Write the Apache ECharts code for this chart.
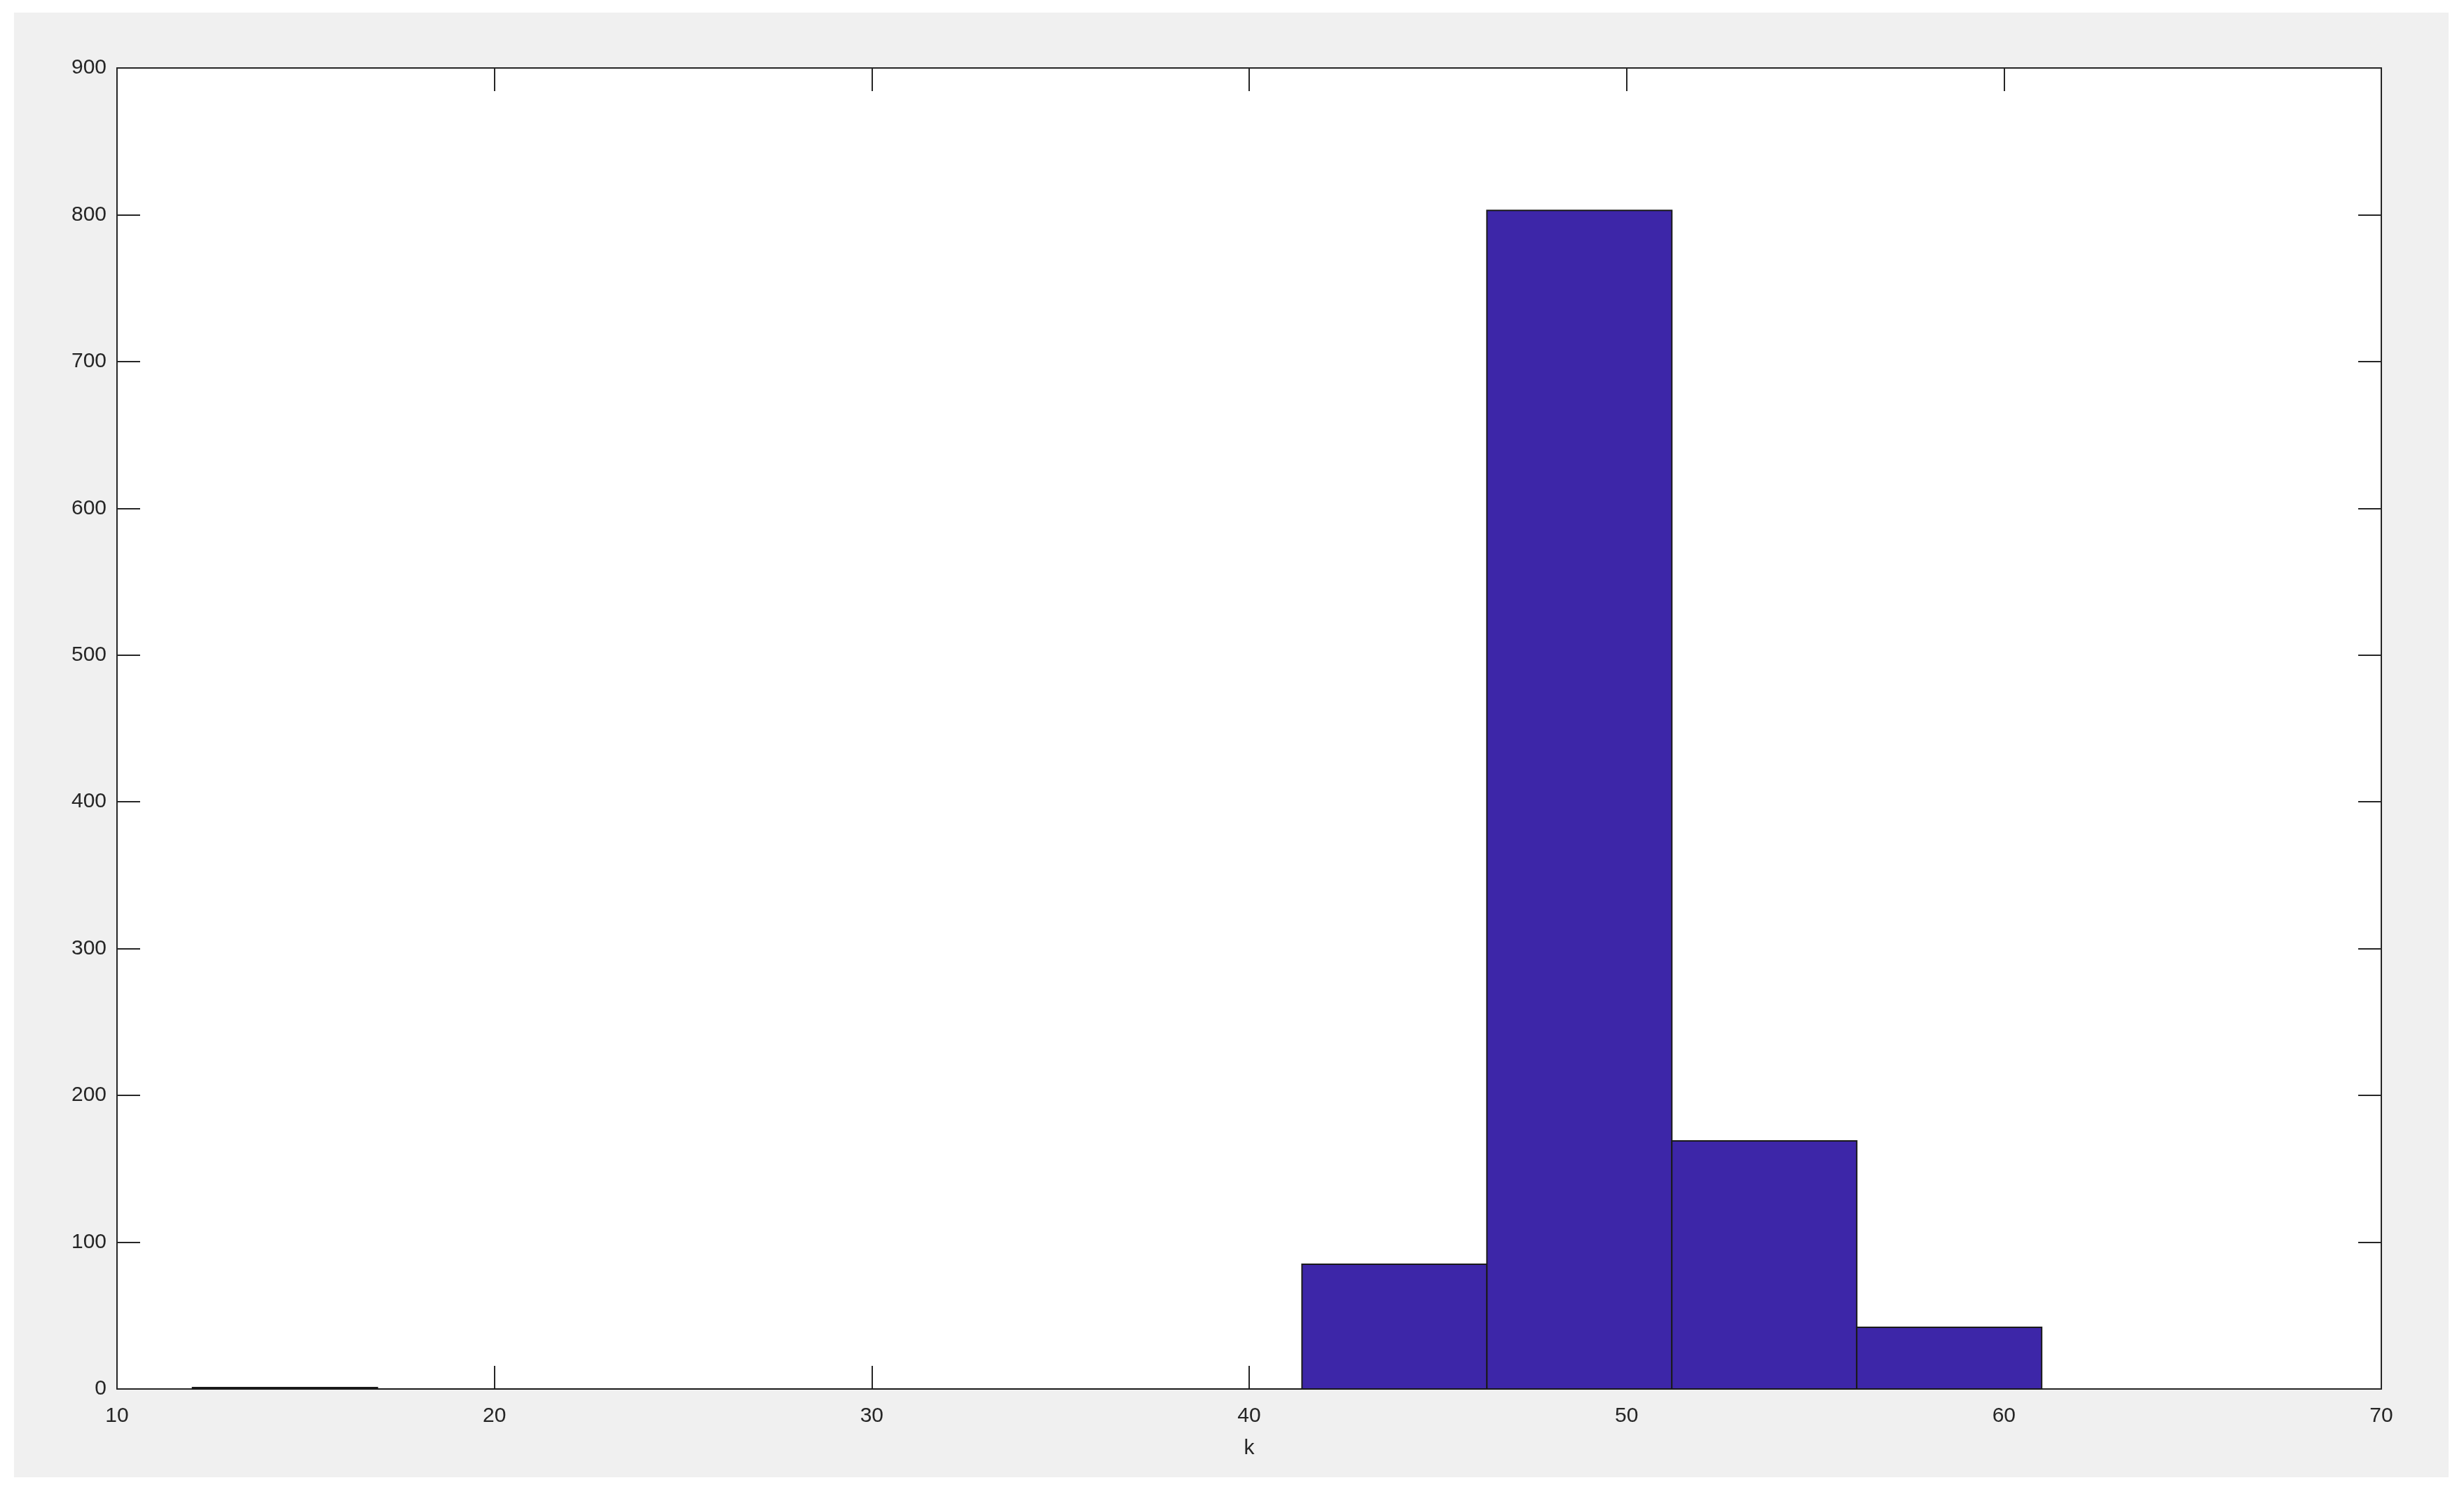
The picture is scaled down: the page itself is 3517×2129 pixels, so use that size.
<!DOCTYPE html>
<html>
<head>
<meta charset="utf-8">
<script src="https://cdn.jsdelivr.net/npm/echarts@6/dist/echarts.min.js"></script>
<style>
  html, body { margin: 0; padding: 0; background: #ffffff; }
  #main { position: absolute; left: 0; top: 0; width: 3517px; height: 2129px; }
</style>
</head>
<body>
<div id="main"></div>
<script>
// histogram bins (k) and counts
const binEdges = [12.0, 16.9, 21.8, 26.7, 31.6, 36.5, 41.4, 46.3, 51.2, 56.1, 61.0];
const counts = [1, 0, 0, 0, 0, 0, 85, 803, 169, 42];
const xTicks = [10, 20, 30, 40, 50, 60, 70];
const yTicks = [0, 100, 200, 300, 400, 500, 600, 700, 800, 900];

const bins = counts.map((c, i) => [binEdges[i], binEdges[i + 1], c]);

const chart = echarts.init(document.getElementById("main"));
const textColor = "#262626";
const font = "'Liberation Sans', Arial, sans-serif";

const tickStyle = { show: true, inside: true, length: 33, lineStyle: { color: textColor, width: 2 } };
const lineStyle = { show: true, onZero: false, lineStyle: { color: textColor, width: 2 } };

chart.setOption({
  backgroundColor: "#ffffff",
  animation: false,
  graphic: [
    {
      type: "rect",
      z: -10,
      shape: { x: 20, y: 18, width: 3475, height: 2090 },
      style: { fill: "#f0f0f0" },
    },
  ],
  grid: { left: 167, top: 97, right: 118, bottom: 147, show: true, backgroundColor: "#ffffff", borderWidth: 0 },
  xAxis: [
    {
      type: "value",
      min: xTicks[0],
      max: xTicks[xTicks.length - 1],
      interval: 10,
      position: "bottom",
      name: "k",
      nameLocation: "middle",
      nameGap: 70,
      nameTextStyle: { color: textColor, fontSize: 30, fontFamily: font },
      axisLine: lineStyle,
      axisTick: tickStyle,
      axisLabel: { color: textColor, fontSize: 30, fontFamily: font, margin: 24 },
      splitLine: { show: false },
    },
    {
      type: "value",
      min: xTicks[0],
      max: xTicks[xTicks.length - 1],
      interval: 10,
      position: "top",
      axisLine: lineStyle,
      axisTick: tickStyle,
      axisLabel: { show: false },
      splitLine: { show: false },
    },
  ],
  yAxis: [
    {
      type: "value",
      min: yTicks[0],
      max: yTicks[yTicks.length - 1],
      interval: 100,
      position: "left",
      axisLine: lineStyle,
      axisTick: tickStyle,
      axisLabel: { color: textColor, fontSize: 30, fontFamily: font, margin: 15 },
      splitLine: { show: false },
    },
    {
      type: "value",
      min: yTicks[0],
      max: yTicks[yTicks.length - 1],
      interval: 100,
      position: "right",
      axisLine: lineStyle,
      axisTick: tickStyle,
      axisLabel: { show: false },
      splitLine: { show: false },
    },
  ],
  series: [
    {
      type: "custom",
      xAxisIndex: 0,
      yAxisIndex: 0,
      data: bins,
      encode: { x: [0, 1], y: 2 },
      renderItem(params, api) {
        const p0 = api.coord([api.value(0), api.value(2)]);
        const p1 = api.coord([api.value(1), 0]);
        return {
          type: "rect",
          shape: { x: p0[0], y: p0[1], width: p1[0] - p0[0], height: p1[1] - p0[1] },
          style: { fill: "#3d26a8", stroke: "#1a1a1a", lineWidth: 2 },
        };
      },
    },
  ],
});
</script>
</body>
</html>
